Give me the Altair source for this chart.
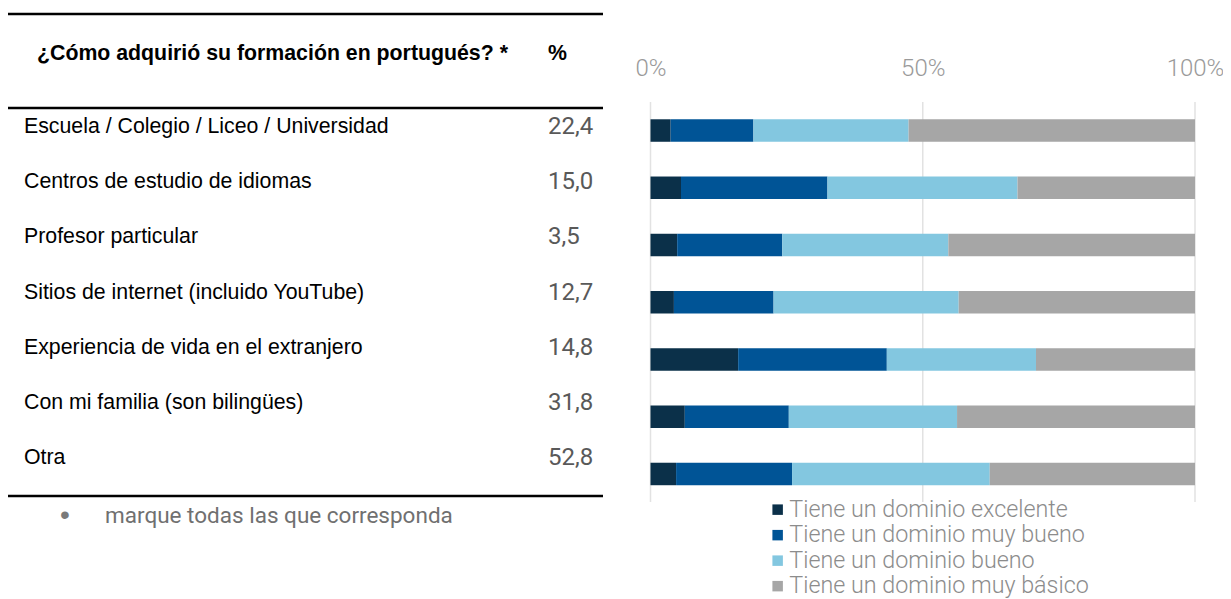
import altair as alt
import pandas as pd

categories = [
    "Escuela / Colegio / Liceo / Universidad",
    "Centros de estudio de idiomas",
    "Profesor particular",
    "Sitios de internet (incluido YouTube)",
    "Experiencia de vida en el extranjero",
    "Con mi familia (son bilingües)",
    "Otra",
]
percent = [22.4, 15.0, 3.5, 12.7, 14.8, 31.8, 52.8]

levels = [
    "Tiene un dominio excelente",
    "Tiene un dominio muy bueno",
    "Tiene un dominio bueno",
    "Tiene un dominio muy básico",
]
excelente = [3.7, 5.6, 4.9, 4.3, 16.1, 6.3, 4.7]
muy_bueno = [15.2, 26.9, 19.3, 18.3, 27.3, 19.1, 21.3]
bueno = [28.5, 34.9, 30.5, 34.0, 27.4, 30.9, 36.3]
muy_basico = [52.6, 32.6, 45.3, 43.4, 29.2, 43.7, 37.7]
colors = ["#0b3049", "#005496", "#83c7e0", "#a6a6a6"]
tick_values = [0, 50, 100]

header_q = "¿Cómo adquirió su formación en portugués? *"
header_p = "%"
footnote = "marque todas las que corresponda"

rows = []
for i, c in enumerate(categories):
    for j, (lvl, arr) in enumerate(zip(levels, [excelente, muy_bueno, bueno, muy_basico])):
        rows.append({"cat": c, "level": lvl, "ord": j, "value": arr[i]})
bars_df = pd.DataFrame(rows)
table_df = pd.DataFrame({
    "cat": categories,
    "pct": [f"{v:.1f}".replace(".", ",") for v in percent],
})
ticks_df = pd.DataFrame({"t": tick_values})
one = alt.Data(values=[{}])

xscale = alt.Scale(domain=[0, 100], range=[642.5, 1187], nice=False)
xaxis = alt.Axis(
    orient="top", offset=-75, values=tick_values, labelExpr="datum.value + '%'",
    domain=False, ticks=False, grid=False, title=None, labelPadding=8,
    labelBaseline="alphabetic", labelFont="Roboto", labelFontWeight=300,
    labelFontSize=24, labelColor="#9a9a9a", labelFlush=False, labelOverlap=False,
)

grid = alt.Chart(ticks_df).mark_rule(color="#e2e2e2", strokeWidth=1.5).encode(
    x=alt.X("t:Q", scale=xscale, axis=xaxis),
    y=alt.value(94), y2=alt.value(494),
)

bars = alt.Chart(bars_df).mark_bar().encode(
    x=alt.X("value:Q", stack="zero", scale=xscale, axis=xaxis),
    y=alt.Y("cat:N", sort=categories, axis=None,
            scale=alt.Scale(range=[93.9, 494.6], paddingInner=0.607, paddingOuter=0.3035)),
    color=alt.Color("level:N", sort=levels,
                    scale=alt.Scale(domain=levels, range=colors),
                    legend=alt.Legend(
                        orient="none", legendX=758, legendY=490, direction="vertical",
                        title=None, symbolType="square", symbolSize=110,
                        symbolStrokeWidth=0, labelFont="Roboto", labelFontWeight=300,
                        labelFontSize=23.3, labelColor="#8c8c8c", rowPadding=1.5,
                        labelOffset=0, labelLimit=400)),
    order=alt.Order("ord:Q"),
)

yt = alt.Y("cat:N", sort=categories, axis=None,
           scale=alt.Scale(type="point", range=[119, 450], padding=0))

labels = alt.Chart(table_df).mark_text(
    align="left", baseline="middle", font="Liberation Sans", fontSize=21.3, color="#000000"
).encode(x=alt.value(16), y=yt, text="cat:N")

values = alt.Chart(table_df).mark_text(
    align="left", baseline="middle", font="Roboto", fontSize=24, color="#595959"
).encode(x=alt.value(540), y=yt, text="pct:N")

head_q = alt.Chart(one).mark_text(
    align="left", baseline="middle", font="Liberation Sans", fontSize=21.3, fontWeight="bold", color="#000000"
).encode(x=alt.value(29), y=alt.value(45.5), text=alt.value(header_q))

head_p = alt.Chart(one).mark_text(
    align="left", baseline="middle", font="Liberation Sans", fontSize=21.3, fontWeight="bold", color="#000000"
).encode(x=alt.value(540), y=alt.value(45.5), text=alt.value(header_p))

def hline(yv):
    return alt.Chart(one).mark_rule(color="#000000", strokeWidth=2.5).encode(
        x=alt.value(0), x2=alt.value(595), y=alt.value(yv))

bullet = alt.Chart(one).mark_text(
    align="center", baseline="middle", font="Liberation Sans", fontSize=28, color="#7a7a7a"
).encode(x=alt.value(57), y=alt.value(508), text=alt.value("•"))

foot = alt.Chart(one).mark_text(
    align="left", baseline="middle", font="Roboto", fontSize=22.5, color="#707070"
).encode(x=alt.value(97), y=alt.value(508), text=alt.value(footnote))

chart = alt.layer(
    grid, bars, labels, values, head_q, head_p,
    hline(6), hline(100), hline(488), bullet, foot,
).resolve_scale(y="independent").properties(
    width=1215, height=591, padding=0,
    autosize=alt.AutoSizeParams(type="none"),
).configure_view(stroke=None)

chart.save("out.html", embed_options={"renderer": "svg", "actions": False})
